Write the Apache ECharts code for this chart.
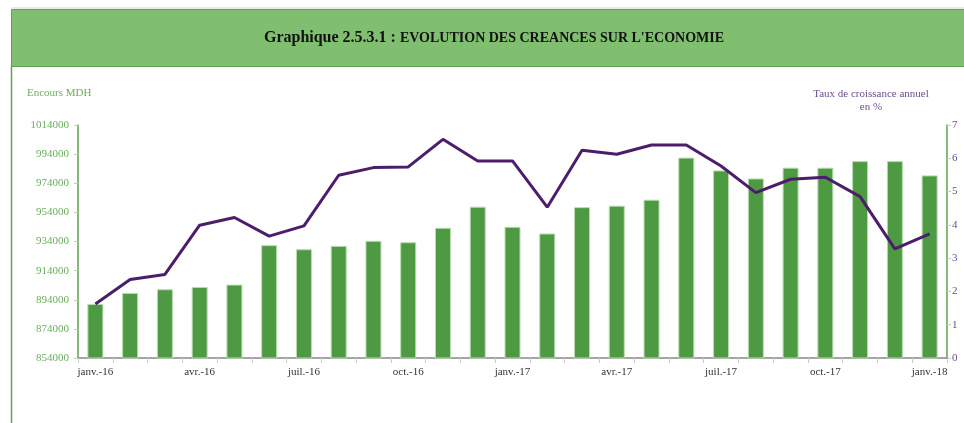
<!DOCTYPE html>
<html><head><meta charset="utf-8">
<script src="https://cdn.jsdelivr.net/npm/echarts@6/dist/echarts.min.js"></script>
<style>html,body{margin:0;padding:0;background:#fff}#c{width:964px;height:423px}</style>
</head><body><div id="c"></div>
<script>
const months = ['janv.-16','févr.-16','mars-16','avr.-16','mai-16','juin-16','juil.-16','août-16','sept.-16','oct.-16','nov.-16','déc.-16',
  'janv.-17','févr.-17','mars-17','avr.-17','mai-17','juin-17','juil.-17','août-17','sept.-17','oct.-17','nov.-17','déc.-17','janv.-18'];
const encours = [891100, 898700, 901200, 902800, 904400, 931500, 928700, 931000, 934500, 933500, 943400, 957900,
  944100, 939500, 957600, 958600, 962700, 991600, 982800, 977300, 984700, 984700, 989200, 989200, 979400];
const taux = [1.62, 2.36, 2.51, 3.99, 4.22, 3.66, 3.97, 5.49, 5.72, 5.74, 6.57, 5.92,
  5.92, 4.53, 6.24, 6.12, 6.40, 6.40, 5.77, 4.97, 5.37, 5.43, 4.85, 3.28, 3.73];
const leftTicks = [854000, 1014000, 20000];
const rightTicks = [0, 7, 1];

const chart = echarts.init(document.getElementById('c'), null, {renderer: 'canvas'});
const serif = '"Liberation Serif", "DejaVu Serif", serif';
chart.setOption({
  animation: false,
  backgroundColor: '#fff',
  graphic: [
    {type: 'rect', shape: {x: 11.5, y: 9.5, width: 960, height: 57}, style: {fill: '#7fbf6f', stroke: '#5fa24f', lineWidth: 1}, z: -1},
    {type: 'line', shape: {x1: 11.5, y1: 8, x2: 964, y2: 8}, style: {stroke: '#d0d8cc', lineWidth: 1}},
    {type: 'line', shape: {x1: 11.5, y1: 66, x2: 11.5, y2: 423}, style: {stroke: '#5fa24f', lineWidth: 1.5}},
    {type: 'text', x: 494, y: 38, style: {
      text: '{a|Graphique 2.5.3.1 : }{b|EVOLUTION DES CREANCES SUR L\'ECONOMIE}',
      align: 'center', verticalAlign: 'middle',
      rich: {
        a: {fontFamily: serif, fontWeight: 'bold', fontSize: 16, fill: '#111'},
        b: {fontFamily: serif, fontWeight: 'bold', fontSize: 14, fill: '#111'}
      }
    }},
    {type: 'text', left: 27, top: 88, style: {text: 'Encours MDH', fontFamily: serif, fontSize: 11, fill: '#6aaf5c'}},
    {type: 'text', x: 871, y: 94, style: {text: 'Taux de croissance annuel', fontFamily: serif, fontSize: 11, fill: '#6d4c8c', align: 'center', verticalAlign: 'middle'}},
    {type: 'text', x: 871, y: 107, style: {text: 'en %', fontFamily: serif, fontSize: 11, fill: '#6d4c8c', align: 'center', verticalAlign: 'middle'}}
  ],
  grid: {left: 78, right: 17, top: 125, bottom: 65},
  xAxis: {
    type: 'category', data: months, boundaryGap: true,
    axisLine: {lineStyle: {color: '#888', width: 1.5}},
    axisTick: {show: true, interval: 0, length: 5, lineStyle: {color: '#ccc'}},
    axisLabel: {interval: 2, fontFamily: serif, fontSize: 11, color: '#333', margin: 9}
  },
  yAxis: [
    {
      type: 'value', min: leftTicks[0], max: leftTicks[1], interval: leftTicks[2],
      axisLine: {show: true, lineStyle: {color: '#5fa24f', width: 1.5}},
      axisTick: {show: true, length: 4, lineStyle: {color: '#b9d6b0'}},
      splitLine: {show: false},
      axisLabel: {fontFamily: serif, fontSize: 11, color: '#6aaf5c', margin: 9, formatter: v => String(v)}
    },
    {
      type: 'value', min: rightTicks[0], max: rightTicks[1], interval: rightTicks[2], position: 'right',
      axisLine: {show: true, lineStyle: {color: '#5fa24f', width: 1.5}},
      axisTick: {show: true, length: 4, lineStyle: {color: '#b9d6b0'}},
      splitLine: {show: false},
      axisLabel: {fontFamily: serif, fontSize: 11, color: '#6d4c8c', margin: 5}
    }
  ],
  series: [
    {type: 'bar', data: encours, yAxisIndex: 0, barWidth: 16,
     itemStyle: {color: '#4e9a43', borderColor: '#b9dcb0', borderWidth: 1}},
    {type: 'line', data: taux, yAxisIndex: 1, showSymbol: false, symbol: 'none',
     lineStyle: {color: '#4b1d6b', width: 3}, z: 5}
  ]
});
</script></body></html>
